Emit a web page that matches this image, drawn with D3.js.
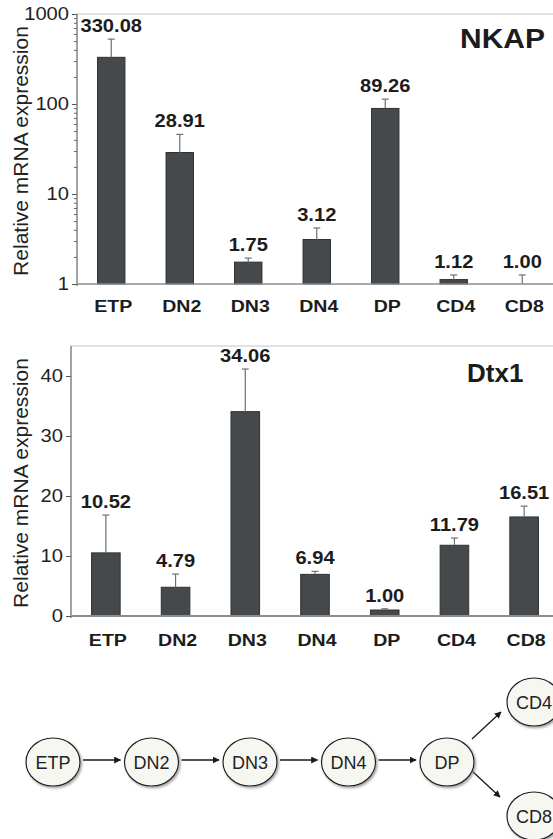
<!DOCTYPE html>
<html><head><meta charset="utf-8">
<script src="https://cdn.jsdelivr.net/npm/d3@7"></script>
<style>
body{margin:0;background:#fff}
svg{display:block}
text{font-family:"Liberation Sans",Arial,Helvetica,sans-serif;fill:#1c1c1c}
</style>
</head><body>
<svg id="c" width="553" height="839"></svg>
<script>
// ---------------- data ----------------
const categories = ["ETP", "DN2", "DN3", "DN4", "DP", "CD4", "CD8"];
const nkapValues = [330.08, 28.91, 1.75, 3.12, 89.26, 1.12, 1.00];
const nkapErrors = [196, 17, 0.19, 1.07, 24, 0.14, 0.26];
const nkapTicks = [1, 10, 100, 1000];
const dtx1Values = [10.52, 4.79, 34.06, 6.94, 1.00, 11.79, 16.51];
const dtx1Errors = [6.3, 2.2, 7.1, 0.5, 0.2, 1.2, 1.8];
const dtx1Ticks = [0, 10, 20, 30, 40];
const lineage = ["ETP", "DN2", "DN3", "DN4", "DP"];
const branches = ["CD4", "CD8"];
const yTitle = "Relative mRNA expression";

// ---------------- drawing ----------------
const svg = d3.select("#c");
const SX = 1.15;
const fmt = d3.format(".2f");

function panel(o) {
  const g = svg.append("g");
  const x = d3.scaleBand().domain(categories).range([o.left, o.right])
    .paddingInner(o.padIn).paddingOuter(o.padIn / 2);
  const y = o.y;
  const y0 = y.range()[0], yTop = y.range()[1];

  g.append("line").attr("x1", o.left).attr("x2", 553).attr("y1", yTop).attr("y2", yTop)
    .attr("stroke", "#c4c6c8").attr("stroke-width", 1.2);

  if (o.minor) {
    g.append("g").attr("transform", `translate(${o.left},0)`)
      .call(d3.axisLeft(y).tickValues(o.minor).tickSize(3).tickFormat(""))
      .call(s => s.select(".domain").remove())
      .call(s => s.selectAll("line").attr("stroke", "#666"));
  }
  const ax = g.append("g").attr("transform", `translate(${o.left},0)`)
    .call(d3.axisLeft(y).tickValues(o.ticks).tickSize(5).tickPadding(2).tickFormat(d3.format("d")));
  ax.select(".domain").remove();
  ax.selectAll("line").attr("stroke", "#555");
  ax.selectAll("text").attr("font-size", 17.5).attr("transform", `scale(${SX},1)`)
    .style("fill", "#222");

  g.selectAll("rect.bar").data(categories).join("rect")
    .attr("x", c => x(c)).attr("width", x.bandwidth())
    .attr("y", (c, i) => y(o.values[i]))
    .attr("height", (c, i) => Math.max(0, y0 - y(o.values[i])))
    .attr("fill", "#45494c").attr("stroke", "#2f3234").attr("stroke-width", 1);

  const cx = c => x(c) + x.bandwidth() / 2;
  g.selectAll("line.err").data(categories).join("line")
    .attr("x1", cx).attr("x2", cx)
    .attr("y1", (c, i) => y(o.values[i]))
    .attr("y2", (c, i) => y(o.values[i] + o.errors[i]))
    .attr("stroke", "#707070").attr("stroke-width", 1.2);
  g.selectAll("line.cap").data(categories).join("line")
    .attr("x1", c => cx(c) - 3.5).attr("x2", c => cx(c) + 3.5)
    .attr("y1", (c, i) => y(o.values[i] + o.errors[i]))
    .attr("y2", (c, i) => y(o.values[i] + o.errors[i]))
    .attr("stroke", "#707070").attr("stroke-width", 1.2);

  g.selectAll("text.val").data(categories).join("text")
    .attr("transform", (c, i) => `translate(${cx(c)},${y(o.values[i] + o.errors[i]) - 7}) scale(${SX},1)`)
    .attr("text-anchor", "middle").attr("font-size", 17.5).attr("font-weight", "bold")
    .text((c, i) => fmt(o.values[i]));

  g.append("line").attr("x1", o.left).attr("x2", o.left).attr("y1", yTop).attr("y2", y0 + 2)
    .attr("stroke", "#666").attr("stroke-width", 1.2);
  g.append("line").attr("x1", o.left).attr("x2", 553).attr("y1", y0).attr("y2", y0)
    .attr("stroke", "#8a8c8e").attr("stroke-width", o.baseW);

  g.selectAll("text.cat").data(categories).join("text")
    .attr("transform", c => `translate(${cx(c) + 2},${o.catY}) scale(${SX},1)`)
    .attr("text-anchor", "middle").attr("font-size", 17).attr("font-weight", "bold")
    .text(c => c);

  g.append("text").attr("transform", `translate(${o.titleX},${o.titleY}) scale(${o.titleSX},1)`)
    .attr("font-size", o.titleSize).attr("font-weight", "bold").text(o.title);

  g.append("text").attr("transform", `translate(28,${(y0 + yTop) / 2 + 2}) rotate(-90)`)
    .attr("text-anchor", "middle").attr("font-size", 21).style("fill", "#222").text(yTitle);
}

const yLog = d3.scaleLog().domain([1, 1000]).range([284, 14]);
panel({
  left: 77, right: 556.5, padIn: 0.6, y: yLog,
  ticks: nkapTicks,
  minor: yLog.ticks().filter(t => !nkapTicks.includes(t)),
  values: nkapValues, errors: nkapErrors,
  catY: 312, baseW: 1.3,
  title: "NKAP", titleX: 460, titleY: 48, titleSize: 28, titleSX: 1.07
});

const yLin = d3.scaleLinear().domain([0, 45]).range([616, 346]);
panel({
  left: 71, right: 559, padIn: 0.59, y: yLin,
  ticks: dtx1Ticks, minor: null,
  values: dtx1Values, errors: dtx1Errors,
  catY: 646, baseW: 2,
  title: "Dtx1", titleX: 467, titleY: 382, titleSize: 26, titleSX: 1.0
});

// ---------------- lineage diagram ----------------
const defs = svg.append("defs");
const f = defs.append("filter").attr("id", "sh").attr("x", "-20%").attr("y", "-20%").attr("width", "150%").attr("height", "150%");
f.append("feDropShadow").attr("dx", 1.4).attr("dy", 1.6).attr("stdDeviation", 0.8)
  .attr("flood-color", "#888").attr("flood-opacity", 0.8);
const mk = defs.append("marker").attr("id", "ah").attr("viewBox", "0 0 10 10")
  .attr("refX", 9).attr("refY", 5).attr("markerWidth", 7).attr("markerHeight", 7)
  .attr("markerUnits", "userSpaceOnUse").attr("orient", "auto");
mk.append("path").attr("d", "M0,0 L10,5 L0,10 Z").attr("fill", "#1a1a1a");

const px = d3.scalePoint().domain(lineage).range([53, 447]);
const cyMain = 762;
const rx = 27, ry = 24;
const nodePos = {};
lineage.forEach(n => nodePos[n] = [px(n), cyMain]);
nodePos["CD4"] = [px("DP") + 87, cyMain - 60];
nodePos["CD8"] = [px("DP") + 87, cyMain + 54];

const dg = svg.append("g");
for (let i = 0; i < lineage.length - 1; i++) {
  const a = nodePos[lineage[i]], b = nodePos[lineage[i + 1]];
  dg.append("line").attr("x1", a[0] + rx + 3).attr("x2", b[0] - rx - 4)
    .attr("y1", cyMain - 2).attr("y2", cyMain - 2)
    .attr("stroke", "#1a1a1a").attr("stroke-width", 1.3).attr("marker-end", "url(#ah)");
}
const dp = nodePos["DP"];
dg.append("line").attr("x1", dp[0] + 25).attr("y1", dp[1] - 23)
  .attr("x2", nodePos["CD4"][0] - 33).attr("y2", nodePos["CD4"][1] + 10)
  .attr("stroke", "#1a1a1a").attr("stroke-width", 1.3).attr("marker-end", "url(#ah)");
dg.append("line").attr("x1", dp[0] + 25).attr("y1", dp[1] + 9)
  .attr("x2", nodePos["CD8"][0] - 34).attr("y2", nodePos["CD8"][1] - 19)
  .attr("stroke", "#1a1a1a").attr("stroke-width", 1.3).attr("marker-end", "url(#ah)");

const allNodes = lineage.concat(branches);
dg.selectAll("ellipse").data(allNodes).join("ellipse")
  .attr("cx", n => nodePos[n][0]).attr("cy", n => nodePos[n][1])
  .attr("rx", rx).attr("ry", ry)
  .attr("fill", "#f7f7f2").attr("stroke", "#1e1e1e").attr("stroke-width", 1.2)
  .attr("filter", "url(#sh)");
dg.selectAll("text.node").data(allNodes).join("text")
  .attr("x", n => nodePos[n][0]).attr("y", n => nodePos[n][1] + 7)
  .attr("text-anchor", "middle").attr("font-size", 18).style("fill", "#222")
  .text(n => n);
</script>
</body></html>
